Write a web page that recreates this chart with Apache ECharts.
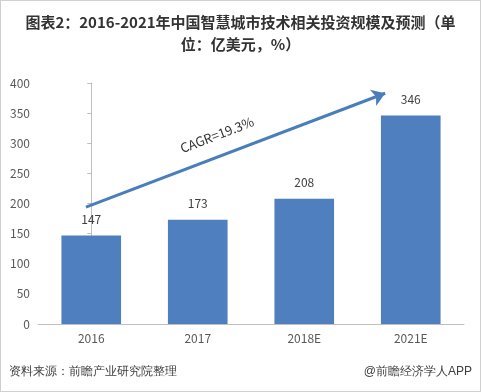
<!DOCTYPE html>
<html><head><meta charset="utf-8">
<script src="https://cdn.jsdelivr.net/npm/echarts@6/dist/echarts.min.js"></script>
<style>html,body{margin:0;padding:0;background:#fff;}#c{width:481px;height:392px;box-sizing:border-box;border:1px solid #d0d0d0;}</style>
</head><body><div id="c"></div>
<script>
const categories = ['2016', '2017', '2018E', '2021E'];
const values = [147, 173, 208, 346];
const yTicks = [0, 50, 100, 150, 200, 250, 300, 350, 400];
const arrowStart = [-0.05, 194];
const arrowEnd = [2.76, 383];
const cagrText = 'CAGR=19.3%';

const chart = echarts.init(document.getElementById('c'), null, {renderer: 'canvas'});
const font = '"Microsoft YaHei","Noto Sans CJK SC",sans-serif';
chart.setOption({
  animation: false,
  textStyle: {fontFamily: font},
  title: {
    text: '图表2：2016-2021年中国智慧城市技术相关投资规模及预测（单\n位：亿美元，%）',
    left: 'center', top: 5,
    textStyle: {fontSize: 15, fontWeight: 'bold', color: '#333', lineHeight: 22, fontFamily: font}
  },
  grid: {left: 37, right: 16, top: 82, bottom: 67},
  xAxis: [{
    type: 'category', data: categories,
    axisLine: {lineStyle: {color: '#bfbfbf'}},
    axisTick: {show: false},
    axisLabel: {color: '#595959', fontSize: 12, margin: 8}
  }, {
    type: 'value', min: -0.5, max: 3.5, show: false
  }],
  yAxis: {
    type: 'value', min: 0, max: 400, interval: 50,
    axisLine: {show: true, lineStyle: {color: '#bfbfbf'}},
    axisTick: {show: true, inside: false, length: 4, lineStyle: {color: '#bfbfbf'}},
    splitLine: {show: false},
    axisLabel: {color: '#595959', fontSize: 12, margin: 8,
      formatter: v => yTicks.includes(v) ? String(v) : ''}
  },
  series: [{
    type: 'bar', data: values, barWidth: '56%',
    itemStyle: {color: '#4f7fbe'},
    label: {show: true, position: 'top', distance: 10, color: '#404040', fontSize: 12}
  }, {
    type: 'line', xAxisIndex: 1, data: [],
    markLine: {
      silent: true, symbol: ['none', 'arrow'], symbolSize: 13,
      lineStyle: {color: '#4a7ebb', width: 3, type: 'solid'},
      label: {show: false},
      data: [[{coord: arrowStart}, {coord: arrowEnd}]]
    }
  }],
  graphic: [{
    type: 'text', left: 8, top: 365,
    style: {text: '资料来源：前瞻产业研究院整理', fill: '#404040', font: 'italic 13px ' + font}
  }, {
    type: 'text', right: 8, top: 365,
    style: {text: '@前瞻经济学人APP', fill: '#404040', font: '13px ' + font}
  }]
});
// CAGR label positioned along the arrow in data space
const p = chart.convertToPixel({xAxisIndex: 1, yAxisIndex: 0}, [1.18, 314]);
chart.setOption({graphic: [{}, {}, {
  type: 'text', x: p[0], y: p[1], rotation: 21 * Math.PI / 180,
  style: {text: cagrText, fill: '#333', font: '13px ' + font, align: 'center', verticalAlign: 'middle'}
}]});
</script></body></html>
